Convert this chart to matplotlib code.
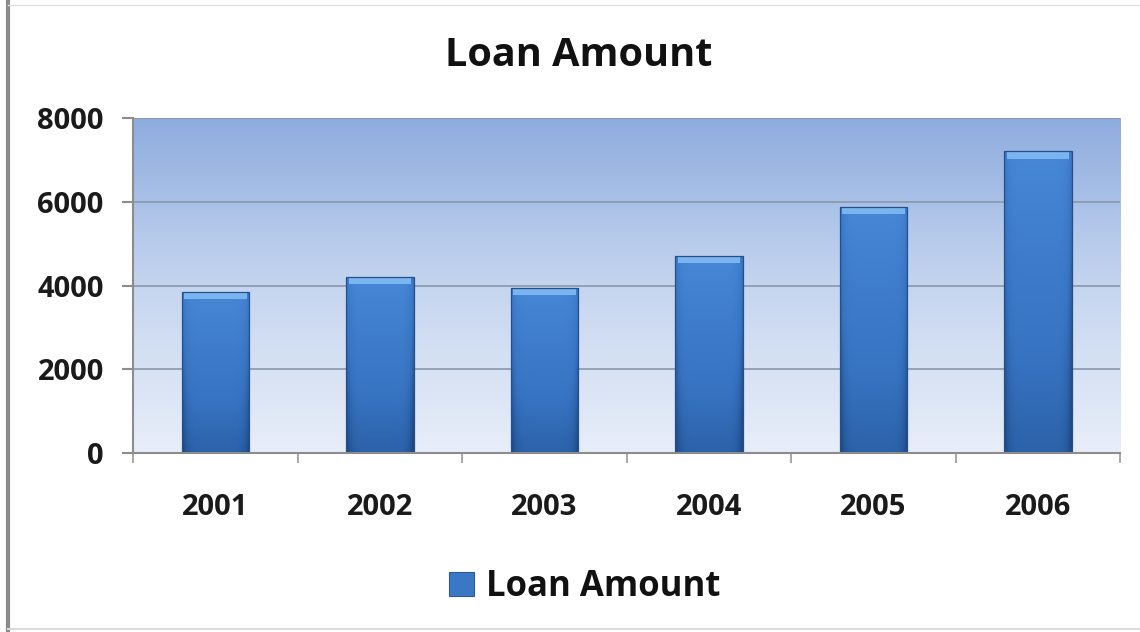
import matplotlib
matplotlib.use('Agg')
import matplotlib.pyplot as plt
import numpy as np
from matplotlib.colors import LinearSegmentedColormap
from matplotlib.patches import Rectangle
from matplotlib.lines import Line2D

# 数据
years = ['2001', '2002', '2003', '2004', '2005', '2006']
loan_amount = [3850, 4200, 3950, 4700, 5880, 7200]
y_ticks = [0, 2000, 4000, 6000, 8000]
series_name = 'Loan Amount'

plt.rcParams['font.family'] = ['Open Sans', 'DejaVu Sans']

fig = plt.figure(figsize=(11.4, 6.32), dpi=100)
fig.patch.set_facecolor('white')
ax = fig.add_axes([0.1167, 0.2832, 0.8658, 0.5301])

x = np.arange(len(years))
ax.set_xlim(-0.5, len(years) - 0.5)
ax.set_ylim(0, 8000)

# 背景渐变（上深下浅）
bg_cmap = LinearSegmentedColormap.from_list('bg', ['#e8eef9', '#c5d5ef', '#8eacde'])
grad = np.linspace(0, 1, 256).reshape(-1, 1)
ax.imshow(grad, extent=[-0.5, len(years) - 0.5, 0, 8000], origin='lower',
          aspect='auto', cmap=bg_cmap, zorder=0)

# 网格线
for yt in y_ticks[1:]:
    ax.axhline(yt, color='#8a96aa', linewidth=1.2, zorder=1)

# 柱子：竖向 + 横向渐变，顶部高光
bar_w = 0.41
bars = ax.bar(x, loan_amount, width=bar_w, color='#3a78c6', zorder=2, linewidth=0)
bar_cmap = LinearSegmentedColormap.from_list('bar', ['#1d4a86', '#3672c0', '#4687d6'])
vert = np.linspace(0, 1, 128).reshape(-1, 1)
horiz = np.linspace(-1, 1, 64).reshape(1, -1)
shade = vert * 0.7 + 0.3 - 0.4 * horiz ** 8
shade = np.clip(shade, 0, 1)
for b, v in zip(bars, loan_amount):
    x0 = b.get_x()
    im = ax.imshow(shade, extent=[x0, x0 + bar_w, 0, v], origin='lower',
                   aspect='auto', cmap=bar_cmap, vmin=0, vmax=1, zorder=3)
    im.set_clip_path(b)
    cap = Rectangle((x0 + 0.015, v - 170), bar_w - 0.03, 170,
                    facecolor='#7ab5f0', edgecolor='none', zorder=4)
    ax.add_patch(cap)
    ax.add_patch(Rectangle((x0, 0), bar_w, v, facecolor='none',
                           edgecolor='#254f8a', linewidth=0.9, zorder=5))

# 坐标轴
for s in ['top', 'right']:
    ax.spines[s].set_visible(False)
for s in ['left', 'bottom']:
    ax.spines[s].set_color('#8c8c8c')
    ax.spines[s].set_linewidth(1.5)
    ax.spines[s].set_zorder(6)

ax.set_yticks(y_ticks)
ax.set_yticklabels([str(t) for t in y_ticks], fontsize=21, fontweight='bold', color='#1a1a1a')
ax.tick_params(axis='y', length=8, width=1.5, color='#8c8c8c', pad=13)

ax.set_xticks(x)
ax.set_xticklabels(years, fontsize=21, fontweight='bold', color='#1a1a1a')
ax.tick_params(axis='x', which='major', length=0, pad=29)
ax.set_xticks(np.arange(-0.5, len(years)), minor=True)
ax.tick_params(axis='x', which='minor', length=7, width=1.2, color='#9a9a9a')

# 标题
fig.text(0.508, 1 - 56 / 632, series_name, ha='center', va='center',
         fontsize=28.5, fontweight='bold', color='#111111')

# 图例
fig.patches.append(Rectangle((449 / 1140, 1 - 596 / 632), 25 / 1140, 24 / 632,
                             transform=fig.transFigure, facecolor='#3a78c6',
                             edgecolor='#2a5a9a', linewidth=0.8))
fig.text(486 / 1140, 1 - 587 / 632, series_name, ha='left', va='center',
         fontsize=25, fontweight='bold', color='#111111')

# 外框
fig.add_artist(Line2D([8 / 1140, 8 / 1140], [0, 1], color='#8a8a8a', linewidth=3))
fig.add_artist(Line2D([8 / 1140, 1], [1 - 5 / 632, 1 - 5 / 632], color='#e2e2e2', linewidth=1))
fig.add_artist(Line2D([8 / 1140, 1], [1 - 629 / 632, 1 - 629 / 632], color='#dadada', linewidth=1.5))

fig.savefig('out.png', dpi=100)
